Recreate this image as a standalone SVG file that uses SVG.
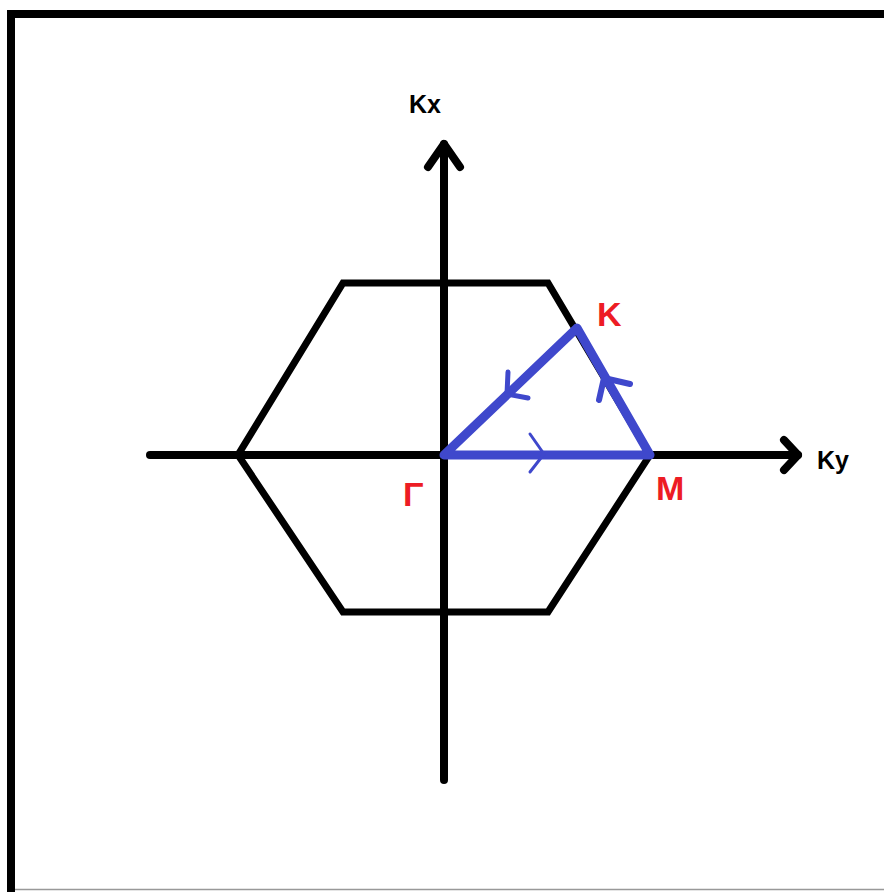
<svg xmlns="http://www.w3.org/2000/svg" width="884" height="892" viewBox="0 0 884 892">
<style>
.ax{stroke:#000;stroke-width:8;fill:none;stroke-linecap:round;stroke-linejoin:round}
.hex{stroke:#000;stroke-width:7;fill:none;stroke-linejoin:miter}
.bl{stroke:#3f48cc;stroke-width:9;fill:none;stroke-linecap:round;stroke-linejoin:round}
.ar{stroke:#3f48cc;stroke-width:3;fill:none;stroke-linecap:round;stroke-linejoin:round}
.lb{font-family:"Liberation Sans",Arial,sans-serif;font-weight:bold}
.red{fill:#ed1c24;font-size:34px}
.blk{fill:#000;font-size:25px}
</style>
<rect width="884" height="892" fill="#fff"/>
<g id="frame">
<rect x="7" y="10" width="877" height="8" fill="#000"/>
<rect x="7" y="10" width="8" height="882" fill="#000"/>
<line x1="15" y1="889.5" x2="884" y2="889.5" stroke="#999" stroke-width="1.5"/>
</g>
<g id="hexagon">
<polygon class="hex" points="343,283 548,283 650,455 548,612 343,612 238,455"/>
</g>
<g id="axes">
<line class="ax" x1="444" y1="144" x2="444" y2="780"/>
<polyline class="ax" points="428,167 444,144 460,167"/>
<line class="ax" x1="150" y1="455" x2="798" y2="455"/>
<polyline class="ax" points="784,440 798,455 784,470"/>
</g>
<g id="connectors">
<polygon class="bl" points="444,455 650,455 577,328"/>
<polyline class="ar" points="530,434 544,454 530,472"/>
<polyline class="ar" style="stroke-width:5" points="508,372 507,394 528,398"/>
<polyline class="bl" style="stroke-width:6" points="599,400 604,378 630,384"/>
</g>
<g id="labels">
<text class="lb blk" x="409" y="113">Kx</text>
<text class="lb blk" x="817" y="469">Ky</text>
<text class="lb red" x="597" y="326">K</text>
<text class="lb red" x="656" y="500">M</text>
<text class="lb red" x="403" y="506">Γ</text>
</g>
</svg>
